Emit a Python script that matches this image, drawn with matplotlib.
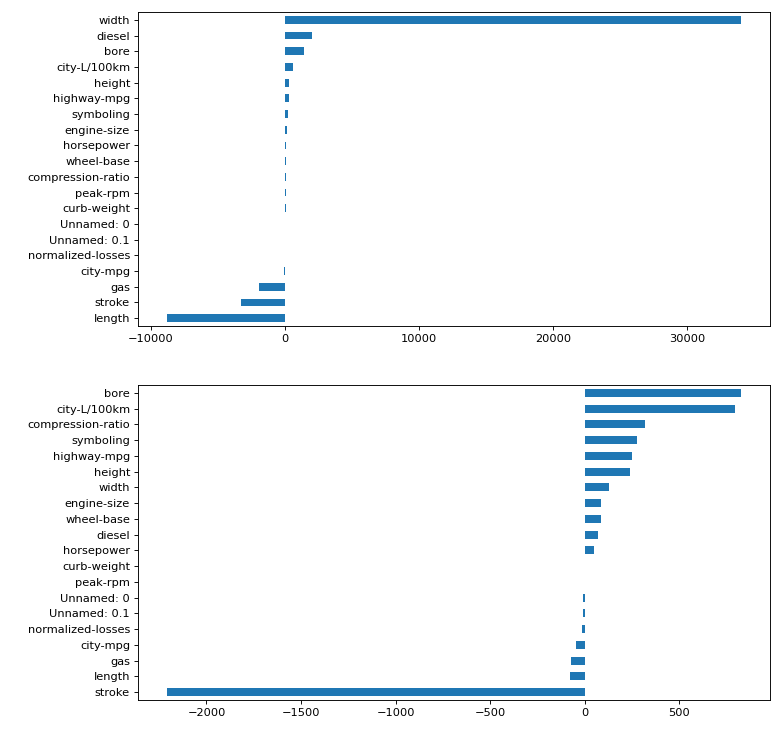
import matplotlib
matplotlib.use("Agg")
import matplotlib.pyplot as plt

# Top chart (bottom to top order)
top_labels = ["length", "stroke", "gas", "city-mpg", "normalized-losses", "Unnamed: 0.1",
              "Unnamed: 0", "curb-weight", "peak-rpm", "compression-ratio", "wheel-base",
              "horsepower", "engine-size", "symboling", "highway-mpg", "height",
              "city-L/100km", "bore", "diesel", "width"]
top_values = [-8830, -3290, -1950, -55, -1, 0.2, 0.5, 45, 48, 52, 56, 60, 110, 210, 280, 285,
              580, 1445, 1995, 34030]

# Bottom chart (bottom to top order)
bot_labels = ["stroke", "length", "gas", "city-mpg", "normalized-losses", "Unnamed: 0.1",
              "Unnamed: 0", "peak-rpm", "curb-weight", "horsepower", "diesel", "wheel-base",
              "engine-size", "width", "height", "highway-mpg", "symboling",
              "compression-ratio", "city-L/100km", "bore"]
bot_values = [-2210, -75, -74, -47, -13, -8, -7, 0.3, 0.6, 50, 70, 86, 87, 127, 237, 250, 278,
              318, 796, 828]

DPI = 82
W, H = 783, 733
fig = plt.figure(figsize=(W / DPI, H / DPI), dpi=DPI)
ax1 = fig.add_axes([138 / W, 1 - 326 / H, (770 - 138) / W, (326 - 12) / H])
ax2 = fig.add_axes([138 / W, 1 - 700 / H, (770 - 138) / W, (700 - 385) / H])

color = "#1f77b4"
for ax, labels, values in ((ax1, top_labels, top_values), (ax2, bot_labels, bot_values)):
    ypos = list(range(len(labels)))
    ax.barh(ypos, values, height=0.5, color=color)
    ax.set_yticks(ypos)
    ax.set_yticklabels(labels)
    ax.set_ylim(-0.5, len(labels) - 0.5)

fig.savefig("out.png", dpi=DPI)
